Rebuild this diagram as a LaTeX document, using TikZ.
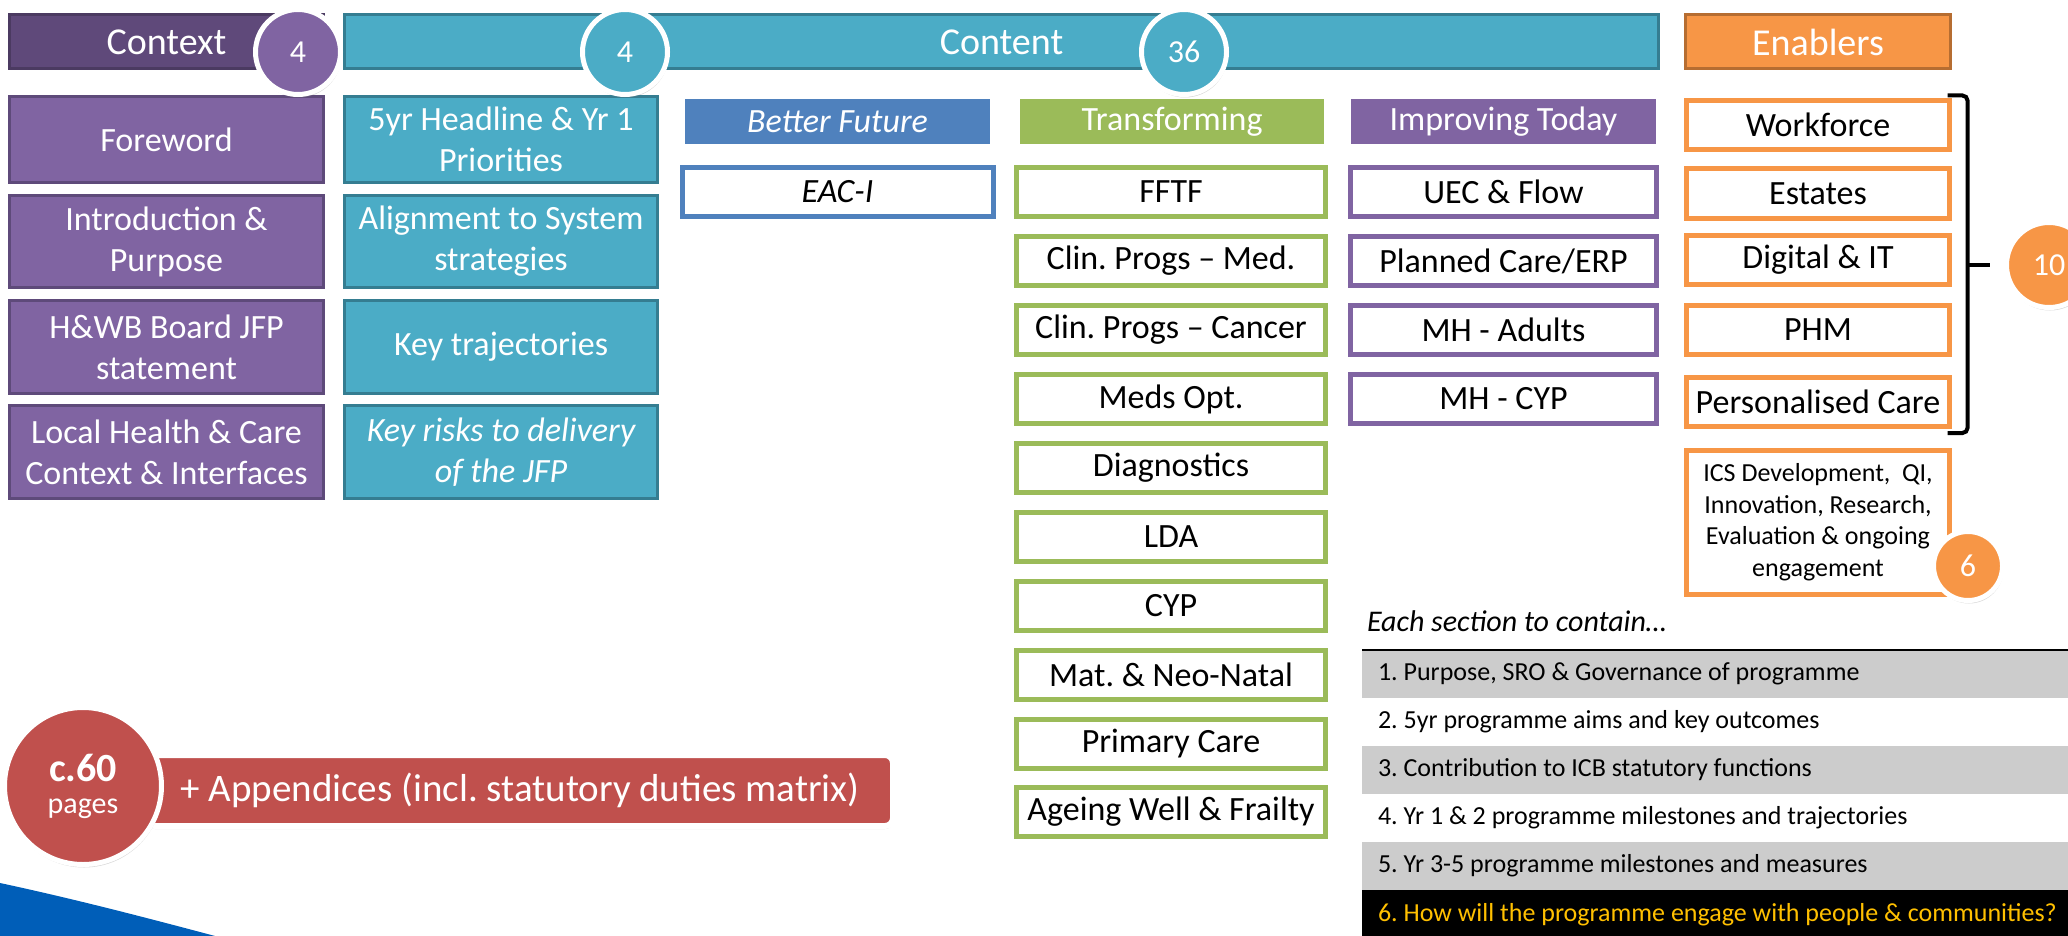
\documentclass[tikz,border=0pt]{standalone}
\usepackage{fontspec}
\setmainfont{Carlito}
\usetikzlibrary{shadows}
\tikzset{>=latex, line width=1.0pt}
\frenchspacing
\definecolor{ctxdark}{HTML}{5F497A}
\definecolor{ctxline}{HTML}{4B3A61}
\definecolor{purple}{HTML}{8064A2}
\definecolor{purpleline}{HTML}{5E4A7A}
\definecolor{teal}{HTML}{4BACC6}
\definecolor{tealline}{HTML}{357D91}
\definecolor{blue}{HTML}{4F81BD}
\definecolor{green}{HTML}{9BBB59}
\definecolor{orange}{HTML}{F79646}
\definecolor{orangeline}{HTML}{B66D31}
\definecolor{red}{HTML}{C0504D}
\definecolor{tabgray}{HTML}{CCCCCC}
\definecolor{tabyellow}{HTML}{FFC000}
\definecolor{nhsblue}{HTML}{005EB8}
\newcommand{\boxfont}{\fontsize{34}{41}\selectfont}
\newcommand{\smallfont}{\fontsize{26}{31.5}\selectfont}

\begin{document}
\begin{tikzpicture}[x=1pt, y=-1pt,
  every node/.style={inner sep=0pt, outer sep=0pt, align=center},
  bar/.style={rectangle, line width=3pt, minimum height=54, text=white,
    font=\fontsize{38}{44}\selectfont},
  fillbox/.style={rectangle, line width=3pt, text=white, font=\boxfont},
  linebox/.style={rectangle, fill=white, line width=5pt, minimum height=49,
    font=\boxfont},
  subhead/.style={rectangle, draw=white, line width=6pt, minimum height=51,
    text=white, font=\boxfont,
    drop shadow={opacity=0.3, shadow xshift=0pt, shadow yshift=-3pt}},
  count/.style={circle, draw=white, line width=5pt, minimum size=85,
    text=white, font=\fontsize{32}{32}\selectfont,
    drop shadow={opacity=0.3, shadow xshift=1pt, shadow yshift=-3pt}},
  tabrow/.style={rectangle, minimum width=706, minimum height=48, anchor=west},
  tabtext/.style={anchor=west, font=\smallfont}]

  \path[use as bounding box] (0,0) rectangle (2068,936);

  % section bars
  \node[bar, fill=ctxdark, draw=ctxline, minimum width=314]
    (context) at (166.5,42) {Context};
  \node[bar, fill=teal, draw=tealline, minimum width=1314]
    (content) at (1001.5,42) {Content};
  \node[bar, fill=orange, draw=orangeline, minimum width=265]
    (enablers) at (1818,42) {Enablers};

  % Context column
  \node[fillbox, fill=purple, draw=purpleline, minimum width=314, minimum height=86]
    (foreword) at (166.5,139.5) {Foreword};
  \node[fillbox, fill=purple, draw=purpleline, minimum width=314, minimum height=92]
    (intro) at (166.5,241.5) {Introduction \&\\Purpose};
  \node[fillbox, fill=purple, draw=purpleline, minimum width=314, minimum height=93]
    (hwb) at (166.5,347) {H\&WB Board JFP\\statement};
  \node[fillbox, fill=purple, draw=purpleline, minimum width=314, minimum height=93]
    (local) at (166.5,452) {Local Health \& Care\\Context \& Interfaces};

  % Content: opening sections
  \node[fillbox, fill=teal, draw=tealline, minimum width=313, minimum height=86]
    (headline) at (501,139.5) {5yr Headline \& Yr 1\\Priorities};
  \node[fillbox, fill=teal, draw=tealline, minimum width=313, minimum height=92]
    (align) at (501,241.5) {Alignment to System\\strategies};
  \node[fillbox, fill=teal, draw=tealline, minimum width=313, minimum height=93]
    (traj) at (501,347) {Key trajectories};
  \node[fillbox, fill=teal, draw=tealline, minimum width=313, minimum height=93,
    font=\boxfont\itshape]
    (risks) at (501,452) {Key risks to delivery\\of the JFP};

  % Better Future
  \node[subhead, fill=blue, minimum width=311, font=\boxfont\itshape]
    (better) at (837.5,121.5) {Better Future};
  \node[linebox, draw=blue, minimum width=311, font=\boxfont\itshape]
    (eaci) at (837.5,192) {EAC-I};

  % Transforming
  \node[subhead, fill=green, minimum width=310]
    (transf) at (1172,121.5) {Transforming};
  \node[linebox, draw=green, minimum width=309] (fftf) at (1171,192) {FFTF};
  \node[linebox, draw=green, minimum width=309] (clinmed) at (1171,261) {Clin. Progs – Med.};
  \node[linebox, draw=green, minimum width=309] (clincan) at (1171,330) {Clin. Progs – Cancer};
  \node[linebox, draw=green, minimum width=309] (meds) at (1171,399) {Meds Opt.};
  \node[linebox, draw=green, minimum width=309] (diag) at (1171,468) {Diagnostics};
  \node[linebox, draw=green, minimum width=309] (lda) at (1171,537) {LDA};
  \node[linebox, draw=green, minimum width=309] (cyp) at (1171,606) {CYP};
  \node[linebox, draw=green, minimum width=309] (mat) at (1171,675) {Mat. \& Neo-Natal};
  \node[linebox, draw=green, minimum width=309] (primary) at (1171,744) {Primary Care};
  \node[linebox, draw=green, minimum width=309] (ageing) at (1171,812) {Ageing Well \& Frailty};

  % Improving Today
  \node[subhead, fill=purple, minimum width=311]
    (improv) at (1503.5,121.5) {Improving Today};
  \node[linebox, draw=purple, minimum width=306] (uec) at (1503.5,192) {UEC \& Flow};
  \node[linebox, draw=purple, minimum width=306] (planned) at (1503.5,261) {Planned Care/ERP};
  \node[linebox, draw=purple, minimum width=306] (mhad) at (1503.5,330) {MH - Adults};
  \node[linebox, draw=purple, minimum width=306] (mhcyp) at (1503.5,399) {MH - CYP};

  % Enablers
  \node[linebox, draw=orange, minimum width=263] (workforce) at (1818,125) {Workforce};
  \node[linebox, draw=orange, minimum width=263] (estates) at (1818,193.5) {Estates};
  \node[linebox, draw=orange, minimum width=263] (digital) at (1818,259.5) {Digital \& IT};
  \node[linebox, draw=orange, minimum width=263] (phm) at (1818,330) {PHM};
  \node[linebox, draw=orange, minimum width=263] (perscare) at (1818,401.5) {Personalised Care};
  \node[linebox, draw=orange, minimum width=263, minimum height=144, font=\smallfont]
    (ics) at (1818,522) {ICS Development,~ QI,\\Innovation, Research,\\Evaluation \& ongoing\\engagement};

  % bracket over the five enablers
  \draw[line width=4pt, rounded corners=5pt] ([xshift=-2pt,yshift=5pt]workforce.north east)
    -- ++(20,0) |- ([xshift=-2pt,yshift=-7pt]perscare.south east);
  \coordinate (brtip) at (1990,265);
  \draw[line width=4pt] (1969,265) -- (brtip);

  % what each section contains
  \node[tabtext, font=\fontsize{30}{36}\selectfont\itshape] (each) at (1367,621) {Each section to contain…};
  \node[tabrow, fill=tabgray] (r1) at (1362,674) {};
  \node[tabrow, fill=white] (r2) at (1362,722) {};
  \node[tabrow, fill=tabgray] (r3) at (1362,770) {};
  \node[tabrow, fill=white] (r4) at (1362,818) {};
  \node[tabrow, fill=tabgray] (r5) at (1362,866) {};
  \node[tabrow, fill=black] (r6) at (1362,914) {};
  \draw[line width=2.5pt] (r1.north west) -- (r1.north east);
  \node[tabtext] (t1) at ([xshift=16pt]r1.west) {1. Purpose, SRO \& Governance of programme};
  \node[tabtext] (t2) at ([xshift=16pt]r2.west) {2. 5yr programme aims and key outcomes};
  \node[tabtext] (t3) at ([xshift=16pt]r3.west) {3. Contribution to ICB statutory functions};
  \node[tabtext] (t4) at ([xshift=16pt]r4.west) {4. Yr 1 \& 2 programme milestones and trajectories};
  \node[tabtext] (t5) at ([xshift=16pt]r5.west) {5. Yr 3-5 programme milestones and measures};
  \node[tabtext, text=tabyellow] (t6) at ([xshift=16pt,yshift=-1pt]r6.west)
    {6. How will the programme engage with people \& communities?};

  % appendices and page count
  \node[rectangle, rounded corners=8pt, fill=red, draw=white, line width=6pt,
    minimum width=746, minimum height=71, text=white,
    font=\fontsize{39}{44}\selectfont,
    drop shadow={opacity=0.3, shadow xshift=0pt, shadow yshift=-3pt}]
    (appx) at (520,790.5) {+ Appendices (incl. statutory duties matrix)};
  \node[count, fill=red, minimum size=157]
    (pages) at (83,786) {\fontsize{40}{44}\selectfont\bfseries c.60\\\fontsize{30}{35}\selectfont pages};

  % counts
  \node[count, fill=purple] (n1) at (298,52) {4};
  \node[count, fill=teal] (n2) at (625,52) {4};
  \node[count, fill=teal] (n3) at (1184,52) {36};
  \node[count, fill=orange] (n4) at (2049,265) {10};
  \node[count, fill=orange, minimum size=69] (n5) at (1968,566) {6};

  % blue corner
  \fill[nhsblue] (0,883) .. controls (70,898) and (140,916) .. (215,936) -- (0,936) -- cycle;
\end{tikzpicture}
\end{document}
